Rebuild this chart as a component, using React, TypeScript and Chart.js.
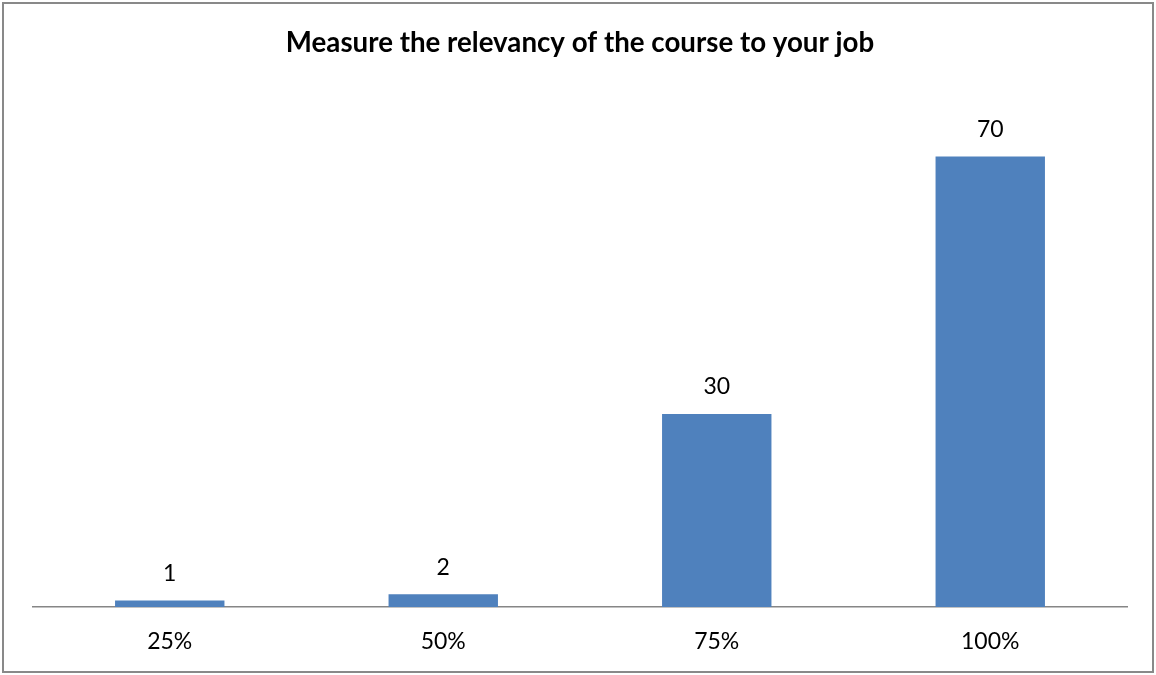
import React, { useEffect, useRef } from "react";
import { Chart, registerables } from "chart.js";

Chart.register(...registerables);

const categories = ["25%", "50%", "75%", "100%"];
const values = [1, 2, 30, 70];
const chartTitle = "Measure the relevancy of the course to your job";

const FONT = "Lato, 'Open Sans', sans-serif";

const frameAndLabels = {
  id: "frameAndLabels",
  afterDatasetsDraw(chart: any) {
    const ctx = chart.ctx;
    const meta = chart.getDatasetMeta(0);
    ctx.save();
    ctx.fillStyle = "#000000";
    ctx.font = `23px ${FONT}`;
    ctx.textAlign = "center";
    ctx.textBaseline = "middle";
    meta.data.forEach((bar: any, i: number) => {
      ctx.fillText(String(chart.data.datasets[0].data[i]), bar.x, bar.y - 27);
    });
    ctx.restore();
  },
  afterDraw(chart: any) {
    const ctx = chart.ctx;
    ctx.save();
    ctx.strokeStyle = "#898989";
    ctx.lineWidth = 2;
    ctx.strokeRect(3, 3, chart.width - 6, chart.height - 6);
    ctx.restore();
  },
};

export default function App() {
  const ref = useRef<HTMLCanvasElement | null>(null);
  useEffect(() => {
    if (!ref.current) return;
    const chart = new Chart(ref.current, {
      type: "bar",
      data: {
        labels: categories,
        datasets: [
          {
            data: values,
            backgroundColor: "#4F81BD",
            barPercentage: 0.4,
            categoryPercentage: 1,
          },
        ],
      },
      options: {
        animation: false,
        responsive: false,
        events: [],
        layout: { padding: { left: 33, right: 29, top: 0, bottom: 0 } },
        plugins: {
          legend: { display: false },
          tooltip: { enabled: false },
          title: {
            display: true,
            text: chartTitle,
            color: "#000000",
            font: { family: FONT, size: 27.7, weight: "bold", lineHeight: 1.2 },
            padding: { top: 26, bottom: 32.8 },
          },
        },
        scales: {
          x: {
            grid: { display: false, drawTicks: false },
            border: { display: true, color: "#868686", width: 1.5 },
            ticks: {
              color: "#000000",
              font: { family: FONT, size: 23 },
              padding: 21,
            },
            afterFit(scale: any) {
              scale.height = 68;
            },
          },
          y: {
            display: false,
            min: 0,
            max: 80,
          },
        },
      },
      plugins: [frameAndLabels],
    });
    return () => chart.destroy();
  }, []);
  return (
    <div style={{ position: "fixed", left: 0, top: 0, width: 1156, height: 675, background: "#ffffff" }}>
      <canvas ref={ref} width={1156} height={675} style={{ display: "block" }} />
    </div>
  );
}
